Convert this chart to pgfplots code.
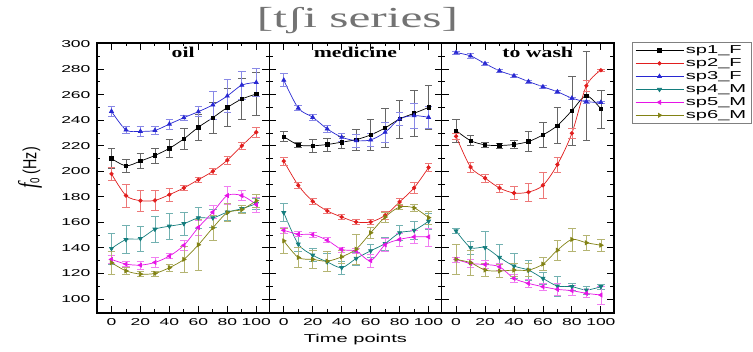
\documentclass[border=0pt]{standalone}
\usepackage{fontspec}
\setmainfont{Liberation Sans}[FakeStretch=1.75]
\newfontfamily\ylabsans{Liberation Sans}[FakeStretch=0.75]
\newfontfamily\ylabserif{Liberation Serif}[FakeStretch=0.75]
\newfontfamily\titleserif{Liberation Serif}[FakeStretch=1.7]
\newfontfamily\panelserif{Liberation Serif}[FakeStretch=1.45]
\usepackage{pgfplots}
\usepackage{pgfplotstable}
\pgfplotsset{compat=1.18}
\usepgfplotslibrary{groupplots}

\definecolor{cred}{RGB}{225,30,30}
\definecolor{cblue}{RGB}{40,40,210}
\definecolor{cteal}{RGB}{20,125,125}
\definecolor{cmag}{RGB}{230,20,230}
\definecolor{coli}{RGB}{130,130,20}

\pgfplotstableread{
x s1 e1 s2 e2 s3 e3 s4 e4 s5 e5 s6 e6
0 210 8 198 5 247 4 139.5 12 131 3 128.4 9
10 204.3 5 181 9 232.4 3 146.5 11 127.3 2 122 3
20 208 6 177 8 231.3 4 147.3 10 126.5 3 119.5 2
30 212.4 6 177.2 8 232 3 154.6 10 128.6 4 120 2
40 218 7 181.7 5 237 4 157 10 133.6 2 124.5 3
50 225.4 8 187 2 242 2 159 9 142 4 131 10
60 234.5 10 193.4 2 246.7 4 163.5 8 156 6 142.4 20
70 242 12 200 2 252 11 163.5 7 168 5 155.7 10
80 250 15 208.7 3 259 13 168 6 181 7 167.6 7
90 256.6 16 220 3 267.5 11 170.7 3 181 4 170 3
100 260.5 17 230.6 4 269.6 11 174.6 4 174 6 177 5
}\oil

\pgfplotstableread{
x s1 e1 s2 e2 s3 e3 s4 e4 s5 e5 s6 e6
0 227.2 4 208 3 271.4 5 167.6 7 153.8 2 145.5 10
10 220.7 2 189 2 249.5 2 143 6 150.7 2 132.5 8
20 220 5 176.5 2 242.3 2 134.3 5 150.4 2 131 7
30 221 5 169 2 233.2 3 129 7 146 2 129.6 8
40 222.8 5 164.2 2 226.7 3 124.5 5 138.8 2 133 5
50 224.8 8 160.3 2 224 5 131.7 5 137.5 2 139 12
60 228.5 12 160.3 2 224.6 5 137.7 5 130 5 151.8 4
70 234 15 165.5 3 230.6 8 143.4 5 142.4 5 164.2 4
80 241 15 176 3 241 5 151.8 6 146.6 5 172 2
90 245.4 18 187 4 243.6 10 153.8 7 148.6 5 171.3 3
100 250 17 203 3 242.3 9 160.9 6 148.6 7 163.7 5
}\medicine

\pgfplotstableread{
x s1 e1 s2 e2 s3 e3 s4 e4 s5 e5 s6 e6
0 231.9 9 227.4 2 293 1 153.3 2 131 2 131 12
10 224 4 203.3 4 290.4 2 140.3 5 127.8 3 128.4 10
20 220.7 2 194.7 3 284.4 1 140.3 13 127 3 122.6 5
30 220.2 2 186.9 3 278.7 1 132.5 10 125.2 3 121.9 5
40 221 3 183 5 274.8 1 125.8 10 116.1 3 122.6 5
50 223.3 8 183.7 7 270.3 1 122.6 8 112.2 3 122.6 5
60 228.5 10 189 10 266.2 1 116.1 5 109.6 3 127.3 5
70 235.8 14 205.3 6 262.3 1 110.1 8 107.5 5 138.2 8
80 247.5 27 229.8 4 257.3 1 109.6 3 106.5 4 146.6 9
90 259.2 35 267 4 254.5 1 107 3 104.4 3 144 6
100 248.8 15 279.2 1 254 1 109.6 2 103.1 7 142.1 5
}\towash

\pgfplotsset{
  errs/.style={error bars/y dir=both, error bars/y explicit,
    error bars/error bar style={#1, line width=0.6pt, solid},
    error bars/error mark options={rotate=90, mark size=3.8pt, #1, line width=0.6pt}},
  s1/.style={black, line width=0.7pt, smooth, mark=square*, mark size=1.7pt, mark options={solid}, errs={black!60}},
  s2/.style={cred, line width=0.7pt, smooth, mark=*, mark size=1.8pt, mark options={solid}, errs={cred!60}},
  s3/.style={cblue, line width=0.7pt, smooth, mark=triangle*, mark size=2.3pt, mark options={solid}, errs={cblue!55}},
  s4/.style={cteal, line width=0.7pt, smooth, mark=triangle*, mark size=2.3pt, mark options={solid, rotate=180}, errs={cteal!60}},
  s5/.style={cmag, line width=0.7pt, smooth, mark=triangle*, mark size=2.3pt, mark options={solid, rotate=90}, errs={cmag!55}},
  s6/.style={coli, line width=0.7pt, smooth, mark=triangle*, mark size=2.3pt, mark options={solid, rotate=-90}, errs={coli!60}},
}

\begin{document}
\begin{tikzpicture}
\begin{groupplot}[
  group style={group size=3 by 1, horizontal sep=0pt, group name=G, y descriptions at=edge left},
  scale only axis, width=172.3pt, height=270pt,
  xmin=-10, xmax=109, ymin=89, ymax=300.5,
  xtick={0,20,...,100}, minor xtick={10,30,...,90},
  ytick={100,120,...,300}, minor ytick={110,130,...,290},
  tick align=inside, major tick length=7pt, minor tick length=3.5pt,
  axis line style={line width=1.2pt},
  every tick/.style={black, line width=0.9pt},
  /pgf/number format/assume math mode=true,
  ticklabel style={font=\fontsize{10}{12}\selectfont},
  xticklabel style={yshift=-2pt},
  yticklabel style={xshift=-3pt},
  title style={font=\panelserif\bfseries\fontsize{15}{15}\selectfont, at={(0.5,1)}, anchor=north, yshift=-7pt},
  clip=false,
  legend image code/.code={\draw[mark repeat=2,mark phase=2,#1] plot coordinates {(0pt,0pt) (24pt,0pt) (48pt,0pt)};},
]
\nextgroupplot[title={oil}]
\addplot[s1] table[x=x,y=s1,y error=e1] {\oil};
\addplot[s2] table[x=x,y=s2,y error=e2] {\oil};
\addplot[s3] table[x=x,y=s3,y error=e3] {\oil};
\addplot[s4] table[x=x,y=s4,y error=e4] {\oil};
\addplot[s5] table[x=x,y=s5,y error=e5] {\oil};
\addplot[s6] table[x=x,y=s6,y error=e6] {\oil};
\nextgroupplot[title={medicine}]
\addplot[s1] table[x=x,y=s1,y error=e1] {\medicine};
\addplot[s2] table[x=x,y=s2,y error=e2] {\medicine};
\addplot[s3] table[x=x,y=s3,y error=e3] {\medicine};
\addplot[s4] table[x=x,y=s4,y error=e4] {\medicine};
\addplot[s5] table[x=x,y=s5,y error=e5] {\medicine};
\addplot[s6] table[x=x,y=s6,y error=e6] {\medicine};
\nextgroupplot[title={to wash}, title style={xshift=10pt},
  legend style={at={(1,1)}, anchor=north west, xshift=18pt, yshift=1pt,
    draw=black!50, line width=0.5pt, font=\fontsize{11.5}{13}\selectfont,
    row sep=-0.5pt, inner xsep=3pt, inner ysep=1.5pt},
  legend cell align=left]
\addplot[s1] table[x=x,y=s1,y error=e1] {\towash}; \addlegendentry{sp1\_F}
\addplot[s2] table[x=x,y=s2,y error=e2] {\towash}; \addlegendentry{sp2\_F}
\addplot[s3] table[x=x,y=s3,y error=e3] {\towash}; \addlegendentry{sp3\_F}
\addplot[s4] table[x=x,y=s4,y error=e4] {\towash}; \addlegendentry{sp4\_M}
\addplot[s5] table[x=x,y=s5,y error=e5] {\towash}; \addlegendentry{sp5\_M}
\addplot[s6] table[x=x,y=s6,y error=e6] {\towash}; \addlegendentry{sp6\_M}
\end{groupplot}
\node[font=\titleserif\fontsize{29}{29}\selectfont, text=black!55] at ([yshift=22pt, xshift=2pt]G c2r1.north) {[tʃi series]};
\node[font=\fontsize{11.5}{13}\selectfont] at ([yshift=-27pt]G c2r1.south) {Time points};
\node[rotate=90] at ([xshift=-67pt,yshift=10pt]G c1r1.west) {\ylabsans\fontsize{19}{19}\selectfont{\ylabserif\itshape\fontsize{26}{26}\selectfont f}\raisebox{-3pt}{\fontsize{13}{13}\selectfont 0} (Hz)};
\pgfresetboundingbox
\path ([shift={(-97pt,-39pt)}]G c1r1.south west) rectangle ([shift={(656pt,313pt)}]G c1r1.south west);
\end{tikzpicture}
\end{document}
